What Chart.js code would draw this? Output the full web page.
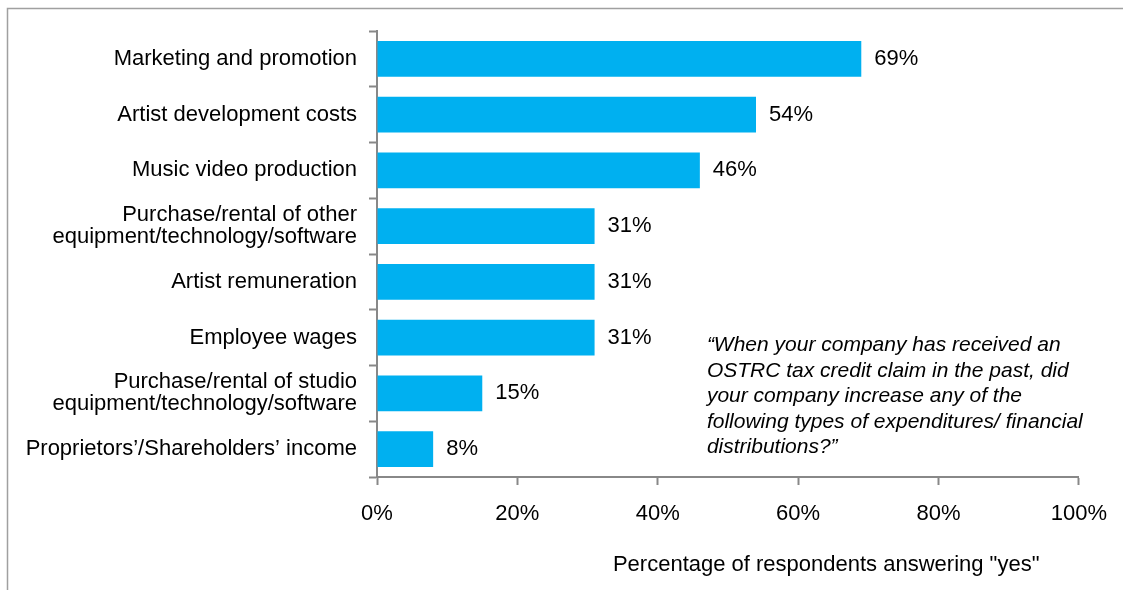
<!DOCTYPE html>
<html>
<head>
<meta charset="utf-8">
<script src="https://cdn.jsdelivr.net/npm/chart.js@4.4.1/dist/chart.umd.min.js"></script>
<style>
  html, body { margin: 0; padding: 0; background: #fff; }
  #grafica { display: block; }
</style>
</head>
<body>
<canvas id="grafica" width="1123" height="590"></canvas>
<script>
const categorias = [
  'Marketing and promotion',
  'Artist development costs',
  'Music video production',
  ['Purchase/rental of other', 'equipment/technology/software'],
  'Artist remuneration',
  'Employee wages',
  ['Purchase/rental of studio', 'equipment/technology/software'],
  'Proprietors’/Shareholders’ income',
];
const porcentajes = [69, 54, 46, 31, 31, 31, 15, 8];
const marcasEje = [0, 20, 40, 60, 80, 100];
const tituloEje = 'Percentage of respondents answering "yes"';
const nota = [
  '“When your company has received an',
  'OSTRC tax credit claim in the past, did',
  'your company increase any of the',
  'following types of expenditures/ financial',
  'distributions?”',
];

const FUENTE = '"Liberation Sans", Arial, sans-serif';
const AZUL = '#00B0F0';
const GRIS = '#888888';

// ============================================================
// Extra drawing: outer frame, value labels, axis title, note
// ============================================================
const extras = {
  id: 'extras',
  beforeDraw(chart) {
    const { ctx } = chart;
    ctx.save();
    ctx.strokeStyle = '#a0a0a0';
    ctx.lineWidth = 1.5;
    ctx.beginPath();
    ctx.moveTo(7.5, chart.height);
    ctx.lineTo(7.5, 8.5);
    ctx.lineTo(chart.width, 8.5);
    ctx.stroke();
    ctx.restore();
  },
  afterDatasetsDraw(chart) {
    const { ctx, scales: { x, y } } = chart;
    const barras = chart.getDatasetMeta(0).data;
    ctx.save();
    ctx.fillStyle = '#000';
    ctx.font = `22px ${FUENTE}`;
    ctx.textBaseline = 'middle';
    ctx.textAlign = 'left';
    barras.forEach((barra, i) => {
      ctx.fillText(`${porcentajes[i]}%`, barra.x + 13, barra.y);
    });

    // axis title sits right of centre, under the tick labels
    ctx.textAlign = 'center';
    ctx.fillText(tituloEje, x.getPixelForValue(64), x.top + 88);

    ctx.font = `italic 21px ${FUENTE}`;
    ctx.textAlign = 'left';
    const inicioNota = y.getPixelForValue(5) + 8;
    nota.forEach((linea, i) => {
      ctx.fillText(linea, x.getPixelForValue(47), inicioNota + i * 25.5);
    });
    ctx.restore();
  },
};

new Chart(document.getElementById('grafica'), {
  type: 'bar',
  data: {
    labels: categorias,
    datasets: [{
      data: porcentajes,
      backgroundColor: AZUL,
      borderWidth: 0,
      categoryPercentage: 0.643,
      barPercentage: 1,
    }],
  },
  options: {
    indexAxis: 'y',
    responsive: false,
    animation: false,
    devicePixelRatio: 1,
    layout: { padding: { left: 0, top: 31, right: 43, bottom: 0 } },
    plugins: {
      legend: { display: false },
      tooltip: { enabled: false },
    },
    scales: {
      x: {
        min: 0,
        max: 100,
        afterBuildTicks: (scale) => { scale.ticks = marcasEje.map(v => ({ value: v })); },
        afterFit: (scale) => { scale.height = 113; },
        ticks: {
          color: '#000',
          font: { family: FUENTE, size: 22 },
          padding: 16,
          maxRotation: 0,
          callback: (v) => `${v}%`,
        },
        grid: {
          drawOnChartArea: false,
          tickLength: 8,
          tickWidth: 2,
          tickColor: GRIS,
        },
        border: { color: GRIS, width: 2 },
      },
      y: {
        afterFit: (scale) => { scale.width = 377; },
        ticks: {
          color: '#000',
          font: { family: FUENTE, size: 22, lineHeight: 1.0 },
          padding: 12,
          autoSkip: false,
        },
        grid: {
          drawOnChartArea: false,
          tickLength: 8,
          tickWidth: 2,
          tickColor: GRIS,
        },
        border: { color: GRIS, width: 2 },
      },
    },
  },
  plugins: [extras],
});
</script>
</body>
</html>
